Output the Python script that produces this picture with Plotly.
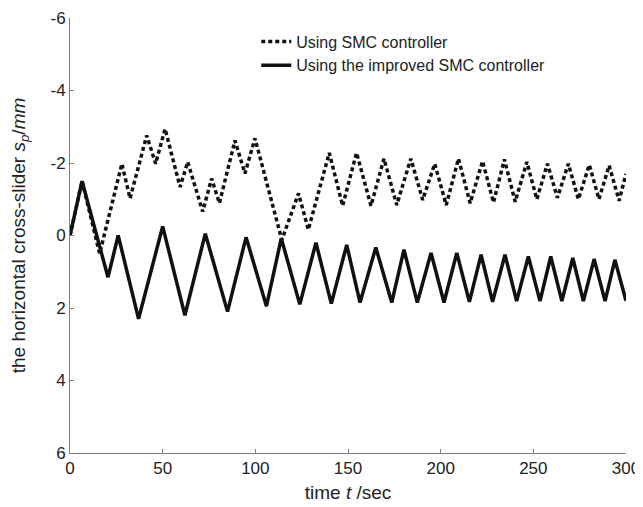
import plotly.graph_objects as go

# ── Data ───────────────────────────────────────────────
t_smc = [0, 6.5, 16, 28, 32.4, 41.4, 46.2, 51.3, 59.4, 63.5, 71.6, 76.4, 80.6,
         89, 94.4, 99.8, 114.3, 123.3, 128.6, 139.9, 147.1, 154.6, 162.4,
         169.4, 176.3, 183.9, 190.3, 196.8, 203, 209.6, 215.9, 222.6, 228.5,
         234.4, 240.2, 246.5, 251.9, 257.6, 263, 268.9, 274.3, 280.2, 285.4,
         290.9, 296.3, 300]
s_smc = [0, -1.5, 0.5, -1.98, -1.02, -2.76, -1.98, -2.94, -1.34, -2.03, -0.66,
         -1.57, -0.89, -2.62, -1.71, -2.68, 0.12, -1.16, -0.16, -2.28, -0.82,
         -2.28, -0.82, -2.12, -0.84, -2.12, -0.98, -1.98, -0.84, -2.12, -0.89,
         -2.05, -0.91, -2.1, -0.93, -2.03, -1.0, -1.98, -1.04, -1.98, -1.0,
         -1.95, -1.0, -1.93, -0.96, -1.7]

t_imp = [0, 6.5, 20.5, 26, 37, 50, 62, 73, 85, 95, 106, 114, 124, 132.7, 141,
         149.3, 156.5, 165, 173.6, 180.2, 187.4, 194.8, 201.8, 208.7, 215.5,
         221.8, 228, 234.7, 241, 247.3, 253.6, 259.4, 265.4, 271.3, 277, 282.8,
         288.7, 294, 300]
s_imp = [0, -1.5, 1.15, 0.0, 2.3, -0.25, 2.2, -0.05, 2.1, 0.05, 1.95, 0.08,
         1.9, 0.2, 1.88, 0.26, 1.85, 0.33, 1.85, 0.39, 1.85, 0.48, 1.85, 0.48,
         1.83, 0.53, 1.83, 0.53, 1.81, 0.58, 1.81, 0.58, 1.81, 0.62, 1.81,
         0.65, 1.81, 0.67, 1.8]

x_ticks = [0, 50, 100, 150, 200, 250, 300]
y_ticks = [-6, -4, -2, 0, 2, 4, 6]
y_labels = ['-6', '-4', '-2', '0', '2', '4', '6']

FONT = 'Liberation Sans, Arial, sans-serif'
AXIS = '#7f7f7f'

fig = go.Figure()
fig.add_trace(go.Scatter(
    x=t_smc, y=s_smc, mode='lines', name='Using SMC controller',
    line=dict(color='#111111', width=3.5, dash='4px,3px')
))
fig.add_trace(go.Scatter(
    x=t_imp, y=s_imp, mode='lines', name='Using the improved SMC controller',
    line=dict(color='#111111', width=3.5)
))

# page body adds an 8px offset, so the figure is sized to fit the window
fig.update_layout(
    width=635, height=499,
    margin=dict(l=62, r=17, t=10, b=54),
    plot_bgcolor='white', paper_bgcolor='white',
    font=dict(family=FONT, size=16, color='#222222'),
    showlegend=True,
    legend=dict(x=0.335, y=0.985, xanchor='left', yanchor='top',
                bgcolor='rgba(0,0,0,0)', font=dict(size=16),
                tracegroupgap=0, itemwidth=30),
    xaxis=dict(
        range=[0, 300], tickvals=x_ticks, ticks='inside', ticklen=4,
        tickcolor=AXIS, showline=True, linecolor=AXIS, linewidth=1,
        showgrid=False, zeroline=False, automargin=False,
        tickfont=dict(size=17), ticklabeloverflow='allow',
        title=dict(text='time <i>t</i> /sec', standoff=8)
    ),
    yaxis=dict(
        range=[6, -6], tickvals=y_ticks, ticktext=y_labels, ticks='inside',
        ticklen=4, tickcolor=AXIS, showline=True, linecolor=AXIS, linewidth=1,
        showgrid=False, zeroline=False, automargin=False,
        tickfont=dict(size=17), ticklabeloverflow='allow',
        title=dict(text='the horizontal cross-slider <i>s<sub>p</sub></i>/<i>mm</i>',
                   standoff=20)
    )
)

fig.write_html("out.html")
